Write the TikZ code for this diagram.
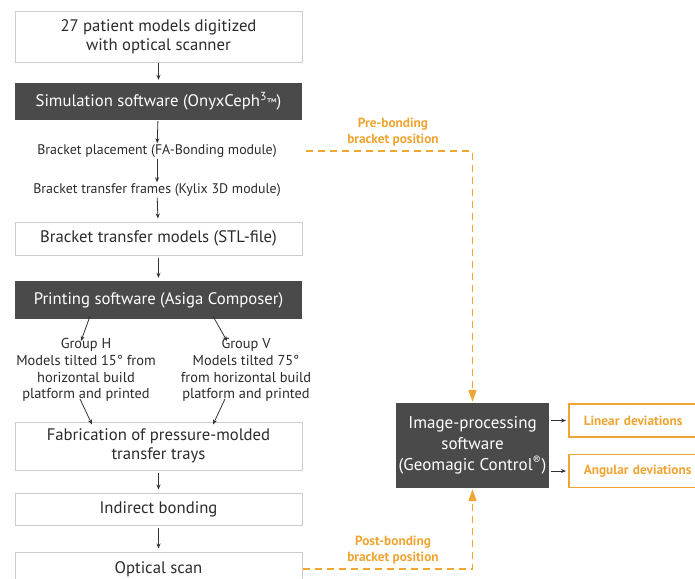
\documentclass[tikz,border=0pt]{standalone}
\usepackage{fontspec}
\setmainfont{PT Sans}
\usetikzlibrary{arrows.meta}

\definecolor{darkbox}{HTML}{4A4A4A}
\definecolor{orng}{HTML}{F0A532}
\definecolor{txt}{HTML}{2B2B2B}

\tikzset{
    whitebox/.style={draw=black!20, line width=1pt, fill=white, text=txt, minimum width=287pt, align=center, inner sep=0pt},
    darkbx/.style={fill=darkbox, text=white, minimum width=287pt, align=center, inner sep=0pt},
    plain/.style={text=txt, align=center, inner sep=1pt},
    arr/.style={-{Stealth[length=5pt,width=4pt]}, line width=0.8pt, black!80},
    dasharr/.style={orng, line width=1.5pt, dash pattern=on 7pt off 5pt, -{Triangle[length=12pt,width=8pt]}},
    orbox/.style={draw=orng, line width=1.5pt, text=orng, anchor=west, minimum width=160pt, minimum height=33pt, align=left, text width=130pt, inner xsep=14pt, font=\fontsize{13.3}{15}\selectfont\bfseries},
    big/.style={font=\fontsize{16.7}{19}\selectfont}
}

\begin{document}
\begin{tikzpicture}[x=1pt,y=-1pt]
            \clip (0,0) rectangle (695,578);
            \fill[white] (0,0) rectangle (695,578);

            \node[whitebox, minimum height=50pt, big] (scan) at (158.5,37) {27 patient models digitized\\with optical scanner};
            \node[darkbx, minimum height=37pt, big] (sim) at (158.5,101.5) {Simulation software (OnyxCeph\textsuperscript{3}{\fontsize{11}{11}\selectfont\texttrademark})};
            \node[plain, font=\fontsize{13.9}{15}\selectfont] (place) at (157,151) {Bracket placement (FA-Bonding module)};
            \node[plain, font=\fontsize{13.9}{15}\selectfont] (frames) at (157,190) {Bracket transfer frames (Kylix 3D module)};
            \node[whitebox, minimum height=33pt, big] (stl) at (158.5,238.5) {Bracket transfer models (STL-file)};
            \node[darkbx, minimum height=38pt, big] (print) at (158.5,300) {Printing software (Asiga Composer)};

            \node[plain, font=\fontsize{14.4}{16.8}\selectfont] (grpH) at (86,370) {Group H\\Models tilted 15° from\\horizontal build\\platform and printed};
            \node[plain, font=\fontsize{14.4}{16.8}\selectfont] (grpV) at (246,370) {Group V\\Models tilted 75°\\from horizontal build\\platform and printed};

            \node[whitebox, minimum height=48pt, big] (fab) at (158.5,446) {Fabrication of pressure-molded\\transfer trays};
            \node[whitebox, minimum height=32pt, big] (indirect) at (158.5,509) {Indirect bonding};
            \node[whitebox, minimum height=34pt, big] (optical) at (158.5,569) {Optical scan};

            \node[darkbx, minimum width=153pt, minimum height=85pt, font=\fontsize{17}{21}\selectfont] (image) at (472.5,445.5) {Image-processing\\software\\(Geomagic Control\textsuperscript{\textregistered})};
            \node[orbox] (linear) at (568,420.5) {Linear deviations};
            \node[orbox] (angular) at (568,471) {Angular deviations};

            % main chain
            \draw[arr, shorten >=3pt] (scan) -- (sim);
            \draw[arr, shorten <=1pt] (sim) -- (place);
            \draw[arr] (place) -- (frames);
            \draw[arr, shorten >=3pt] (frames) -- (stl);
            \draw[arr, shorten <=2pt, shorten >=3pt] (stl) -- (print);
            \draw[arr] ([xshift=4pt,yshift=3pt]grpH.north |- print.south) -- ([xshift=-5pt,yshift=-4pt]grpH.north);
            \draw[arr] ([xshift=-33pt,yshift=3pt]grpV.north |- print.south) -- ([xshift=-19pt,yshift=-4pt]grpV.north);
            \draw[arr] ([xshift=-6pt,yshift=4pt]grpH.south) -- ([xshift=6pt,yshift=-3pt]grpH.south |- fab.north);
            \draw[arr] ([xshift=-21pt,yshift=4pt]grpV.south) -- ([xshift=-33pt,yshift=-3pt]grpV.south |- fab.north);
            \draw[arr, shorten <=2pt, shorten >=3pt] (fab) -- (indirect);
            \draw[arr, shorten <=2pt, shorten >=3pt] (indirect) -- (optical);

            % positions to image processing
            \coordinate (pre) at (306,151);
            \draw[dasharr, shorten >=1pt] (pre) -| (image.north);
            \draw[dasharr, shorten >=1pt] (optical.east) -| (image.south);
            \node[text=orng, font=\fontsize{13.3}{16.5}\selectfont\bfseries, align=center] (prelbl) at (393,132) {Pre-bonding\\bracket position};
            \node[text=orng, font=\fontsize{13.3}{16.5}\selectfont\bfseries, align=center] (postlbl) at (393,550) {Post-bonding\\bracket position};

            \draw[arr, shorten <=2pt, shorten >=2pt] (linear.west -| image.east) -- (linear.west);
            \draw[arr, shorten <=2pt, shorten >=2pt] (angular.west -| image.east) -- (angular.west);
        \end{tikzpicture}
\end{document}
